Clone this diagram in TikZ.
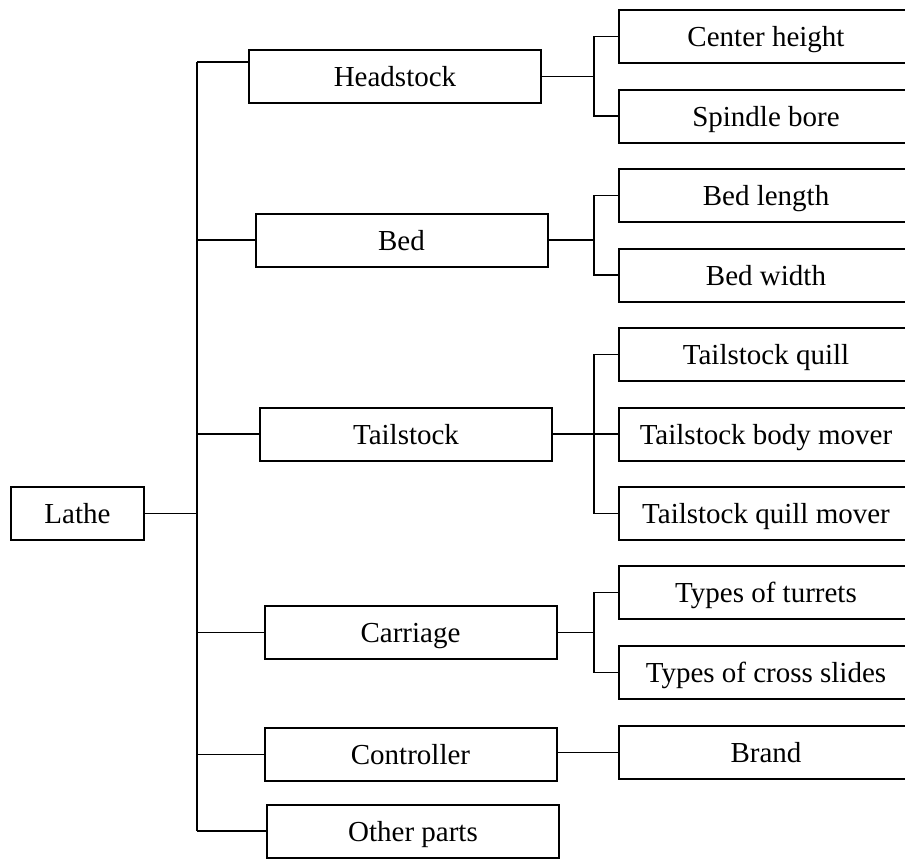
\documentclass[tikz,border=0pt]{standalone}
\usepackage{fontspec}
\setmainfont{Liberation Serif}
\begin{document}
\begin{tikzpicture}[x=0.5pt,y=-0.5pt,
	box/.style={draw,line width=1pt,minimum height=26.5pt,inner sep=0pt,text height=10.4pt,text depth=0pt,font=\fontsize{14.5}{17}\selectfont},
	part/.style={box,minimum width=146pt},
	item/.style={box,minimum width=147pt},
	link/.style={line width=0.75pt},
	trunkline/.style={line width=0.9pt}]
	\useasboundingbox (0,0) rectangle (905,858);
	\clip (0,0) rectangle (905,858);
	% root and parts
	\node[box,minimum width=66.5pt] (lathe) at (77.5,513.5) {Lathe};
	\node[part] (hs) at (395,76.5) {Headstock};
	\node[part] (bed) at (401.5,240) {Bed};
	\node[part] (tail) at (406,434) {Tailstock};
	\node[part] (carr) at (410.5,632.5) {Carriage};
	\node[part] (ctrl) at (410.5,754.5) {Controller};
	\node[part] (other) at (413,831) {Other parts};
	% items
	\node[item] (ch) at (766,36.5) {Center height};
	\node[item] (sb) at (766,116) {Spindle bore};
	\node[item] (bl) at (766,195.5) {Bed length};
	\node[item] (bw) at (766,275) {Bed width};
	\node[item] (tq) at (766,354.5) {Tailstock quill};
	\node[item] (tb) at (766,434) {Tailstock body mover};
	\node[item] (tm) at (766,513.5) {Tailstock quill mover};
	\node[item] (tt) at (766,592.5) {Types of turrets};
	\node[item] (tc) at (766,672.5) {Types of cross slides};
	\node[item] (br) at (766,752.5) {Brand};
	% trunks
	\coordinate (trunk) at (197,0);
	\coordinate (sub) at (594,0);
	\coordinate (hsin) at ([yshift=-6.5pt]hs.north west);
	\draw[link] (lathe.east) -- (trunk |- lathe.east);
	\draw[trunkline] (trunk |- hsin) -- (trunk |- other.west);
	\draw[link] (trunk |- hsin) -- (hsin);
	\foreach \n in {bed,tail,carr,ctrl,other}
		\draw[link] (trunk |- \n.west) -- (\n.west);
	% sub branches
	\foreach \p/\a/\b in {hs/ch/sb,bed/bl/bw,carr/tt/tc}{
		\draw[link] (\p.east) -- (sub |- \p.east);
		\draw[trunkline] (\a.west) -- (sub |- \a.west) -- (sub |- \b.west) -- (\b.west);
	}
	\draw[trunkline] (tq.west) -- (sub |- tq.west) -- (sub |- tm.west) -- (tm.west);
	\draw[link] (tail.east) -- (tb.west);
	\draw[link] (br.west) -- (br.west -| ctrl.east);
\end{tikzpicture}
\end{document}
